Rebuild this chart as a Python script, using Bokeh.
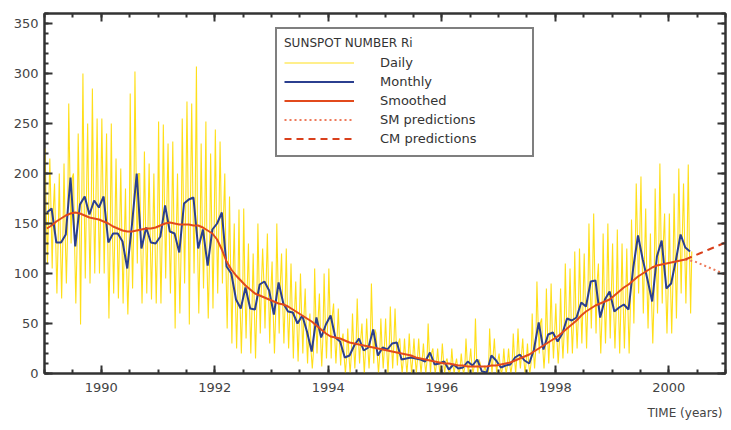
import numpy as np
from bokeh.plotting import figure
from bokeh.models import (Range1d, LinearAxis, FixedTicker, SingleIntervalTicker,
                          Legend, LegendItem, Title, CustomLabelingPolicy)
from bokeh.embed import file_html
from bokeh.resources import INLINE

START_YEAR = 1989

# Monthly mean sunspot number, Jan 1989 .. May 2000
monthly_1989 = [161, 165, 131, 131, 139, 196, 127, 169, 177, 159, 173, 166]
monthly_1990 = [177, 131, 140, 140, 132, 105, 149, 200, 125, 146, 131, 130]
monthly_1991 = [137, 168, 142, 140, 121, 170, 174, 176, 125, 144, 108, 144]
monthly_1992 = [150, 161, 107, 100, 74, 65, 86, 65, 64, 89, 92, 83]
monthly_1993 = [59, 91, 70, 62, 61, 50, 58, 42, 22, 56, 36, 49]
monthly_1994 = [58, 36, 32, 16, 18, 28, 35, 23, 26, 44, 18, 26]
monthly_1995 = [24, 30, 31, 14, 15, 16, 15, 14, 12, 21, 9, 10]
monthly_1996 = [12, 4, 9, 5, 6, 12, 8, 14, 2, 1, 18, 13]
monthly_1997 = [6, 8, 9, 16, 19, 13, 10, 24, 51, 24, 39, 41]
monthly_1998 = [32, 40, 55, 53, 56, 71, 67, 92, 93, 56, 74, 82]
monthly_1999 = [62, 66, 69, 64, 106, 138, 114, 94, 72, 117, 133, 85]
monthly_2000 = [90, 113, 139, 126, 122]

# 13-month smoothed, Jan 1989 .. Mar 2000
smoothed_1989 = [145, 148, 152, 155, 158, 160, 161, 160, 158, 156, 155, 154]
smoothed_1990 = [152, 150, 147, 145, 143, 142, 142, 143, 144, 145, 145, 146]
smoothed_1991 = [148, 150, 151, 150, 149, 149, 149, 148, 148, 146, 143, 140]
smoothed_1992 = [134, 124, 112, 104, 98, 93, 88, 84, 80, 78, 76, 74]
smoothed_1993 = [72, 70, 69, 67, 64, 61, 58, 55, 52, 48, 44, 40]
smoothed_1994 = [37, 36, 35, 33, 31, 30, 29, 28, 27, 26, 25, 24]
smoothed_1995 = [23, 22, 21, 20, 19, 18, 16, 15, 14, 13, 12, 11]
smoothed_1996 = [10, 10, 9, 8, 8, 7, 7, 7, 7, 7, 8, 8]
smoothed_1997 = [9, 10, 11, 13, 15, 17, 19, 22, 25, 28, 31, 34]
smoothed_1998 = [37, 41, 45, 49, 53, 58, 62, 65, 68, 70, 72, 74]
smoothed_1999 = [78, 82, 86, 89, 93, 97, 100, 103, 106, 108, 109, 110]
smoothed_2000 = [111, 112, 113, 114]

# Predictions, Mar 2000 .. Jan 2001
sm_predictions = [114, 113, 112, 110, 108, 106, 104, 102, 100, 98, 96]
cm_predictions = [114, 116, 118, 120, 122, 124, 126, 128, 130, 132, 134]

# Daily values: high and low of each month, Jan 1989 .. May 2000
daily_hi_1989 = [225, 215, 190, 200, 210, 270, 200, 240, 300, 250, 285, 255]
daily_lo_1989 = [110, 105, 80, 75, 90, 130, 70, 49, 95, 90, 100, 100]
daily_hi_1990 = [255, 240, 250, 215, 205, 185, 280, 302, 200, 222, 210, 200]
daily_lo_1990 = [100, 55, 80, 75, 70, 59, 85, 110, 70, 80, 74, 70]
daily_hi_1991 = [252, 249, 230, 232, 200, 255, 272, 270, 307, 230, 252, 220]
daily_lo_1991 = [70, 95, 80, 45, 60, 90, 49, 100, 60, 85, 55, 65]
daily_hi_1992 = [244, 232, 200, 177, 150, 164, 165, 130, 120, 150, 125, 140]
daily_lo_1992 = [80, 90, 45, 30, 25, 20, 35, 20, 15, 40, 45, 30]
daily_hi_1993 = [112, 150, 120, 125, 110, 92, 100, 85, 60, 105, 80, 100]
daily_lo_1993 = [20, 40, 30, 25, 15, 12, 20, 10, 5, 20, 7, 15]
daily_hi_1994 = [105, 70, 65, 40, 45, 60, 75, 50, 55, 90, 40, 55]
daily_lo_1994 = [15, 10, 8, 0, 0, 5, 10, 0, 5, 10, 0, 5]
daily_hi_1995 = [55, 67, 65, 35, 35, 40, 35, 35, 30, 50, 25, 25]
daily_lo_1995 = [0, 5, 8, 0, 0, 0, 0, 0, 0, 0, 0, 0]
daily_hi_1996 = [30, 15, 25, 15, 20, 35, 25, 55, 10, 8, 45, 35]
daily_lo_1996 = [0, 0, 0, 0, 0, 0, 0, 0, 0, 0, 0, 0]
daily_hi_1997 = [20, 25, 25, 40, 45, 35, 30, 60, 92, 55, 85, 90]
daily_lo_1997 = [0, 0, 0, 0, 5, 0, 0, 5, 20, 5, 10, 15]
daily_hi_1998 = [70, 85, 110, 105, 122, 125, 120, 150, 160, 110, 140, 150]
daily_lo_1998 = [10, 15, 20, 20, 25, 30, 25, 45, 40, 20, 30, 35]
daily_hi_1999 = [130, 144, 130, 125, 154, 190, 197, 165, 140, 185, 210, 160]
daily_lo_1999 = [25, 20, 25, 20, 50, 80, 60, 45, 30, 60, 70, 40]
daily_hi_2000 = [160, 180, 205, 190, 209]
daily_lo_2000 = [40, 55, 80, 70, 60]

x_major_ticks = [1990, 1992, 1994, 1996, 1998, 2000]
x_minor_step = 0.5
y_major_step = 50

monthly = sum([monthly_1989, monthly_1990, monthly_1991, monthly_1992, monthly_1993,
               monthly_1994, monthly_1995, monthly_1996, monthly_1997, monthly_1998,
               monthly_1999, monthly_2000], [])
smoothed = sum([smoothed_1989, smoothed_1990, smoothed_1991, smoothed_1992, smoothed_1993,
                smoothed_1994, smoothed_1995, smoothed_1996, smoothed_1997, smoothed_1998,
                smoothed_1999, smoothed_2000], [])
daily_hi = sum([daily_hi_1989, daily_hi_1990, daily_hi_1991, daily_hi_1992, daily_hi_1993,
                daily_hi_1994, daily_hi_1995, daily_hi_1996, daily_hi_1997, daily_hi_1998,
                daily_hi_1999, daily_hi_2000], [])
daily_lo = sum([daily_lo_1989, daily_lo_1990, daily_lo_1991, daily_lo_1992, daily_lo_1993,
                daily_lo_1994, daily_lo_1995, daily_lo_1996, daily_lo_1997, daily_lo_1998,
                daily_lo_1999, daily_lo_2000], [])

t_month = START_YEAR + (np.arange(len(monthly)) + 0.5) / 12
t_smooth = START_YEAR + (np.arange(len(smoothed)) + 0.5) / 12
i0 = len(smoothed) - 1
t_pred = START_YEAR + (np.arange(i0, i0 + len(sm_predictions)) + 0.5) / 12

# daily trace: high, typical (monthly mean), low, typical within each month
n_d = len(daily_hi)
m_idx = np.arange(n_d)
t_daily = np.column_stack([START_YEAR + (m_idx + f) / 12
                           for f in (0.125, 0.375, 0.625, 0.875)]).ravel()
v_daily = np.column_stack([daily_hi, monthly[:n_d], daily_lo, monthly[:n_d]]).ravel()

FONT = "DejaVu Sans"
AX = "#333333"

p = figure(width=730, height=429,
           x_range=Range1d(1989, 2001), y_range=Range1d(0, 360),
           output_backend="svg", toolbar_location=None,
           x_axis_location=None, y_axis_location=None,
           min_border_left=44, min_border_right=1, min_border_top=13, min_border_bottom=56,
           background_fill_color="white", border_fill_color="white")
p.grid.visible = False
p.outline_line_color = AX
p.outline_line_width = 2

minor_x = list(np.arange(1989, 2001 + 1e-9, x_minor_step))

no_labels = CustomLabelingPolicy(code="""
    const all = [...indices]
    for (const i of all) indices.unset(i)
    return indices
""")


def style_axis(ax, labels=True):
    ax.axis_line_color = AX
    ax.axis_line_width = 2
    ax.major_tick_in = 8
    ax.major_tick_out = 0
    ax.minor_tick_in = 4
    ax.minor_tick_out = 0
    ax.major_tick_line_color = AX
    ax.minor_tick_line_color = AX
    ax.major_tick_line_width = 2
    ax.minor_tick_line_width = 2
    ax.major_label_text_font = FONT
    ax.major_label_text_color = "#444444"
    if labels:
        ax.major_label_text_font_size = "13px"
    else:
        ax.major_label_text_font_size = "1px"
        ax.major_label_standoff = 0
        ax.major_label_policy = no_labels


xb = LinearAxis(ticker=FixedTicker(ticks=x_major_ticks, minor_ticks=minor_x))
style_axis(xb)
xb.major_label_standoff = 9
xt = LinearAxis(ticker=FixedTicker(ticks=x_major_ticks, minor_ticks=minor_x))
style_axis(xt, labels=False)
yl = LinearAxis(ticker=SingleIntervalTicker(interval=y_major_step, num_minor_ticks=5))
style_axis(yl)
yl.major_label_standoff = 6
yr = LinearAxis(ticker=SingleIntervalTicker(interval=y_major_step, num_minor_ticks=5))
style_axis(yr, labels=False)

p.add_layout(xb, "below")
p.add_layout(xt, "above")
p.add_layout(yl, "left")
p.add_layout(yr, "right")
p.add_layout(Title(text="TIME (years)", align="right", text_font=FONT, text_font_size="12px",
                   text_font_style="normal", text_color="#444444", standoff=19, offset=3),
             "below")

r_daily = p.line(t_daily, v_daily, line_color="#FFDC00", line_width=1.1, line_alpha=0.9)
r_month = p.line(t_month, monthly, line_color="#2B3F8F", line_width=2)
r_smooth = p.line(t_smooth, smoothed, line_color="#E24A1C", line_width=2)
r_sm = p.line(t_pred, sm_predictions, line_color="#EE7A5A", line_width=2, line_dash="2 3")
r_cm = p.line(t_pred, cm_predictions, line_color="#D9401C", line_width=2, line_dash="7 5")

legend = Legend(items=[
    LegendItem(label="Daily", renderers=[r_daily]),
    LegendItem(label="Monthly", renderers=[r_month]),
    LegendItem(label="Smoothed", renderers=[r_smooth]),
    LegendItem(label="SM predictions", renderers=[r_sm]),
    LegendItem(label="CM predictions", renderers=[r_cm]),
], title="SUNSPOT NUMBER Ri", location=(231, 216))
legend.title_text_font = FONT
legend.title_text_font_size = "12px"
legend.title_text_font_style = "normal"
legend.title_text_color = "#333333"
legend.title_standoff = 3
legend.label_text_font = FONT
legend.label_text_font_size = "13px"
legend.label_text_color = "#333333"
legend.glyph_width = 70
legend.glyph_height = 19
legend.label_height = 19
legend.label_standoff = 26
legend.label_width = 145
legend.spacing = 0
legend.padding = 7
legend.margin = 0
legend.border_line_color = "black"
legend.border_line_width = 2
legend.background_fill_color = "white"
legend.background_fill_alpha = 1
p.add_layout(legend)

open("out.html", "w").write(file_html(p, INLINE))
